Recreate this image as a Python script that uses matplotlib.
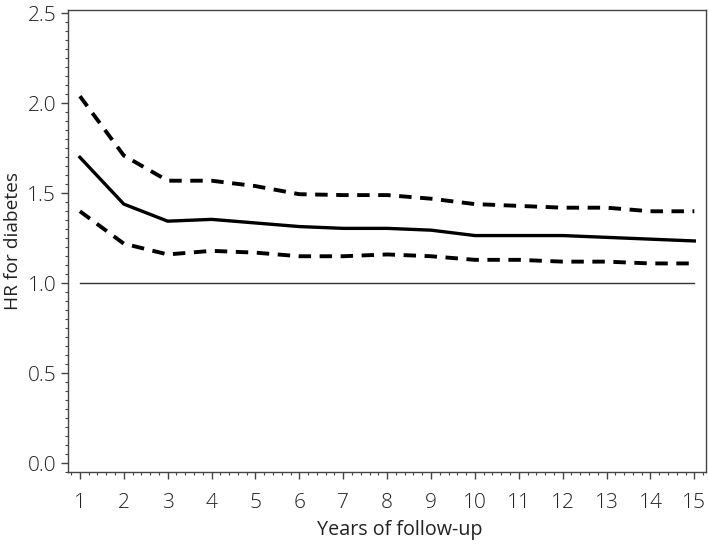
import matplotlib
matplotlib.use("Agg")
import matplotlib.pyplot as plt
from matplotlib.ticker import MultipleLocator, AutoMinorLocator

years = list(range(1, 16))
hr = [1.70, 1.44, 1.345, 1.355, 1.335, 1.315, 1.305, 1.305, 1.295, 1.265, 1.265, 1.265, 1.255, 1.245, 1.235]
upper = [2.04, 1.71, 1.57, 1.57, 1.54, 1.495, 1.49, 1.49, 1.47, 1.44, 1.43, 1.42, 1.42, 1.40, 1.40]
lower = [1.40, 1.22, 1.16, 1.18, 1.17, 1.15, 1.15, 1.16, 1.15, 1.13, 1.13, 1.12, 1.12, 1.11, 1.11]
ref_level = 1.0

plt.rcParams['font.family'] = ['Open Sans', 'DejaVu Sans']
plt.rcParams['font.weight'] = 'light'

fig = plt.figure(figsize=(7.09, 5.47), dpi=100)
ax = fig.add_axes([0.096, 0.137, 0.9, 0.845])

ax.plot(years, upper, color='black', lw=2.8, linestyle=(0, (3.2, 2.2)), dash_capstyle='butt')
ax.plot(years, lower, color='black', lw=2.8, linestyle=(0, (3.2, 2.2)), dash_capstyle='butt')
ax.plot(years, hr, color='black', lw=2.4)
ax.plot([years[0], years[-1]], [ref_level, ref_level], color='#333333', lw=1.0)

ax.set_xlim(0.73, 15.27)
ax.set_ylim(-0.05, 2.52)
ax.xaxis.set_major_locator(MultipleLocator(1))
ax.xaxis.set_minor_locator(AutoMinorLocator(5))
ax.yaxis.set_major_locator(MultipleLocator(0.5))
ax.yaxis.set_minor_locator(AutoMinorLocator(10))
ax.yaxis.set_major_formatter(matplotlib.ticker.FormatStrFormatter('%.1f'))
ax.tick_params(which='major', length=5, width=1, color='#444444', labelsize=15, labelcolor='#222222')
ax.tick_params(axis='x', which='major', pad=10)
ax.tick_params(which='minor', length=2.5, width=0.8, color='#444444')
for s in ax.spines.values():
    s.set_color('#444444')
    s.set_linewidth(1.0)

ax.set_xlabel('Years of follow-up', fontsize=14.2, color='#222222')
ax.set_ylabel('HR for diabetes', fontsize=13.8, color='#222222')
ax.xaxis.set_label_coords(0.52, -0.1255)
ax.yaxis.set_label_coords(-0.086, 0.5)
ax.yaxis.label.set_verticalalignment('center')
ax.xaxis.label.set_verticalalignment('center')

fig.savefig('out.png', dpi=100)
